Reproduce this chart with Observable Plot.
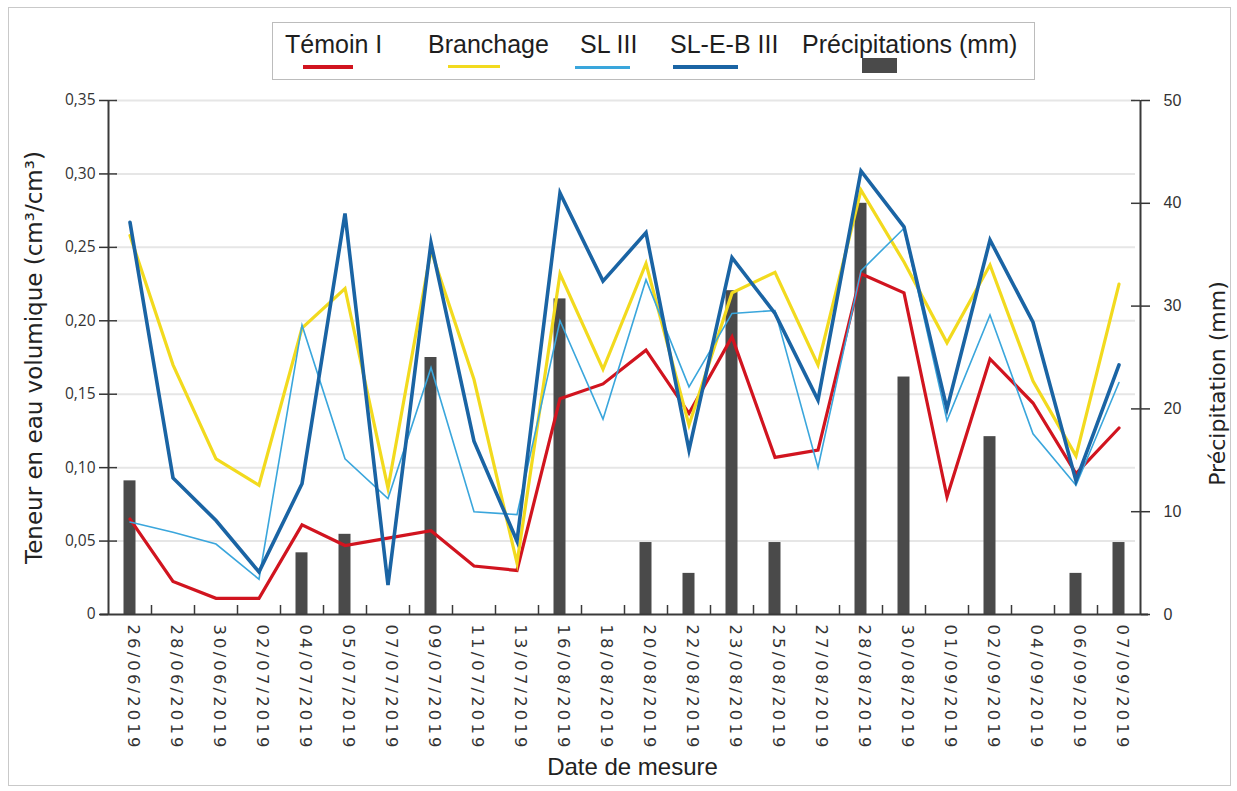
<!DOCTYPE html>
<html>
<head>
<meta charset="utf-8">
<script src="https://cdn.jsdelivr.net/npm/d3@7"></script>
<script src="https://cdn.jsdelivr.net/npm/@observablehq/plot@0.6"></script>
<style>
  body { margin: 0; background: #fff; }
  #wrap { position: relative; width: 1237px; height: 791px; overflow: hidden; background: #fff; }
  #wrap svg { position: absolute; left: 0; top: 0; }
  #frame { position: absolute; left: 8px; top: 7px; right: 6px; bottom: 5px; border: 1.5px solid #c9c9c9; pointer-events: none; }
  #legend { position: absolute; left: 272px; top: 22px; width: 763px; height: 58px; box-sizing: border-box; border: 1.5px solid #bcbcbc; background: #fff; }
  .lg { position: absolute; font-family: "Liberation Sans", Arial, sans-serif; font-size: 25px; line-height: 1; color: #1e1e1e; white-space: nowrap; }
  .sw { position: absolute; }
</style>
</head>
<body>
<div id="wrap">
  <div id="frame"></div>
</div>
<script>
// ---- data ----
const dates = ["26/06/2019","28/06/2019","30/06/2019","02/07/2019","04/07/2019","05/07/2019",
  "07/07/2019","09/07/2019","11/07/2019","13/07/2019","16/08/2019","18/08/2019","20/08/2019",
  "22/08/2019","23/08/2019","25/08/2019","27/08/2019","28/08/2019","30/08/2019","01/09/2019",
  "02/09/2019","04/09/2019","06/09/2019","07/09/2019"];
const temoin    = [0.065,0.0225,0.011,0.011,0.061,0.047,0.052,0.057,0.033,0.030,0.147,0.157,0.180,
  0.137,0.189,0.107,0.112,0.232,0.219,0.080,0.174,0.144,0.096,0.127];
const branchage = [0.258,0.170,0.106,0.088,0.195,0.222,0.086,0.248,0.160,0.035,0.232,0.167,0.239,
  0.129,0.219,0.233,0.170,0.289,0.240,0.185,0.238,0.159,0.108,0.225];
const sl3       = [0.063,0.056,0.048,0.024,0.197,0.106,0.079,0.168,0.070,0.068,0.200,0.133,0.228,
  0.155,0.205,0.207,0.100,0.234,0.263,0.132,0.204,0.123,0.088,0.158];
const sleb3     = [0.267,0.093,0.064,0.029,0.089,0.273,0.020,0.253,0.118,0.050,0.287,0.227,0.260,
  0.112,0.243,0.205,0.146,0.302,0.264,0.140,0.255,0.199,0.091,0.170];
const precip    = [13,0,0,0,6,7.8,0,25,0,0,30.7,0,7,4,31.5,7,0,40,23.1,0,17.3,0,4,7];

const leftTicks  = [0,0.05,0.10,0.15,0.20,0.25,0.30,0.35];
const leftLabels = ["0","0,05","0,10","0,15","0,20","0,25","0,30","0,35"];
const rightTicks = [0,10,20,30,40,50];
const seriesNames = ["Témoin I","Branchage","SL III","SL-E-B III"];
const precipName = "Précipitations (mm)";
const yTitle = "Teneur en eau volumique (cm³/cm³)";
const y2Title = "Précipitation (mm)";
const xTitle = "Date de mesure";

// ---- layout / style ----
const W = 1237, H = 791;
const mL = 108, mR = 97, mT = 100, mB = 177;
const frameW = W - mL - mR, frameH = H - mT - mB;
const bw = frameW / dates.length;
const k = 0.35 / 50; // precipitation -> left-axis units (shared pixel range)
const series = [
  {values: temoin,    color: "#d1141f", width: 3.2},
  {values: branchage, color: "#f2da1e", width: 3.2},
  {values: sl3,       color: "#3aa6dc", width: 1.6},
  {values: sleb3,     color: "#1a64a4", width: 3.6}
];
const axisColor = "#3a3a3a";

const chart = Plot.plot({
  width: W, height: H,
  marginLeft: mL, marginRight: mR, marginTop: mT, marginBottom: mB,
  style: {fontFamily: "DejaVu Sans", background: "transparent", overflow: "visible", color: "#333"},
  x: {type: "band", domain: dates, padding: 0, round: false},
  y: {domain: [0, 0.35]},
  marks: [
    // grid
    Plot.ruleY(leftTicks.slice(1), {stroke: "#e6e6e6", strokeWidth: 2, insetLeft: 7, insetRight: 5}),
    // precipitation bars
    Plot.barY(dates, {x: d => d, y: (d, i) => precip[i] * k, fill: "#4a4a4a", insetLeft: 15.5, insetRight: 15.5}),
    // series lines
    ...series.map(s => Plot.line(dates, {x: d => d, y: (d, i) => s.values[i], stroke: s.color,
      strokeWidth: s.width, strokeLinejoin: "miter", strokeMiterlimit: 6})),
    // axis lines
    Plot.ruleX([dates[0]], {dx: -bw / 2, stroke: axisColor, strokeWidth: 2}),
    Plot.ruleX([dates[dates.length - 1]], {dx: bw / 2, stroke: axisColor, strokeWidth: 2}),
    Plot.ruleY([0], {stroke: axisColor, strokeWidth: 2, insetLeft: -8, insetRight: -8}),
    // x ticks at band boundaries (inside)
    Plot.ruleX(dates.slice(0, -1), {dx: bw / 2, stroke: axisColor, strokeWidth: 1.5, insetTop: frameH - 9}),
    // inward halves of the y ticks
    Plot.ruleY(leftTicks.slice(1), {stroke: axisColor, strokeWidth: 1.5, insetRight: frameW - 9}),
    Plot.ruleY(rightTicks.slice(1).map(v => v * k), {stroke: axisColor, strokeWidth: 1.5, insetLeft: frameW - 9}),
    // axes
    Plot.axisY(leftTicks, {anchor: "left", tickSize: 9, tickPadding: 4, strokeWidth: 1.5,
      tickFormat: d => leftLabels[leftTicks.indexOf(d)], fontSize: 15.5, fontFamily: "Open Sans", label: null}),
    Plot.axisY(rightTicks.map(v => v * k), {anchor: "right", tickSize: 9, tickPadding: 14, strokeWidth: 1.5,
      tickFormat: d => String(Math.round(d / k)), fontSize: 16, fontFamily: "Liberation Sans Narrow, Liberation Sans", label: null}),
    Plot.axisX({anchor: "bottom", tickSize: 0, tickPadding: 10, tickRotate: 90, fontSize: 16.5,
      fontFamily: "DejaVu Sans", dx: 3, label: null}),
    // axis titles
    Plot.text([yTitle], {frameAnchor: "left", textAnchor: "middle", rotate: -90, dx: -74, dy: 0, fontSize: 23,
      fontFamily: "DejaVu Sans", fill: "#222", ariaLabel: "ytitle"}),
    Plot.text([y2Title], {frameAnchor: "right", textAnchor: "middle", rotate: -90, dx: 77, dy: 26, fontSize: 22,
      fontFamily: "DejaVu Sans", fill: "#222"}),
    Plot.text([xTitle], {frameAnchor: "bottom", textAnchor: "middle", dx: 8, dy: 160, fontSize: 24,
      fontFamily: "Liberation Sans Narrow, Liberation Sans", fill: "#222"})
  ]
});

// widen the rotated date labels and the y title like the reference
d3.select(chart).selectAll('g[aria-label="x-axis tick label"] text').style("letter-spacing", "3.1px");
d3.select(chart).selectAll('g[aria-label="ytitle"] text').style("letter-spacing", "1.1px");

const wrap = document.getElementById("wrap");
wrap.insertBefore(chart, wrap.firstChild);

// ---- legend ----
const legend = document.createElement("div");
legend.id = "legend";
wrap.appendChild(legend);
const lgPos = [
  {left: 285, sw: {left: 303, top: 65, w: 50, h: 4}},
  {left: 428, sw: {left: 448, top: 65, w: 52, h: 3}},
  {left: 580, sw: {left: 575, top: 66, w: 55, h: 2.5}},
  {left: 670, sw: {left: 673, top: 65, w: 65, h: 4}}
];
seriesNames.forEach((name, i) => {
  const t = document.createElement("div");
  t.className = "lg"; t.textContent = name;
  t.style.left = lgPos[i].left + "px"; t.style.top = "32px";
  wrap.appendChild(t);
  const s = document.createElement("div");
  s.className = "sw";
  Object.assign(s.style, {left: lgPos[i].sw.left + "px", top: lgPos[i].sw.top + "px",
    width: lgPos[i].sw.w + "px", height: lgPos[i].sw.h + "px", background: series[i].color});
  wrap.appendChild(s);
});
const pt = document.createElement("div");
pt.className = "lg"; pt.textContent = precipName;
pt.style.left = "802px"; pt.style.top = "32px";
wrap.appendChild(pt);
const pr = document.createElement("div");
pr.className = "sw";
Object.assign(pr.style, {left: "862px", top: "58px", width: "35px", height: "15px", background: "#4a4a4a"});
wrap.appendChild(pr);
</script>
</body>
</html>
